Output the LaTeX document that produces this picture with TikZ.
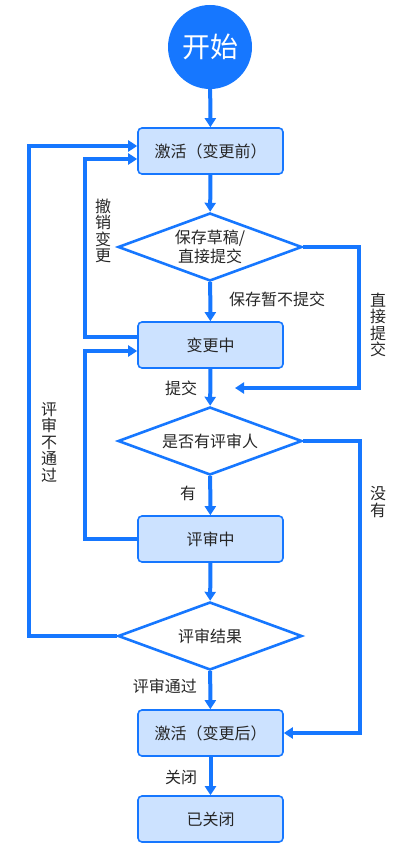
\documentclass[tikz,border=0pt]{standalone}
\usepackage{fontspec}
\setmainfont{Noto Sans CJK SC}
\usetikzlibrary{shapes.geometric,arrows.meta}
\definecolor{flowblue}{HTML}{1677FF}
\definecolor{boxfill}{HTML}{CCE2FF}
\tikzset{
  state/.style={draw=flowblue,line width=1.6pt,fill=boxfill,rounded corners=4pt,
    minimum width=145pt,minimum height=46pt,inner sep=0pt,text=black!85,font=\fontsize{16}{16.5}\selectfont},
  choice/.style={draw=flowblue,line width=2.6pt,fill=white,shape=diamond,shape aspect=2.7,
    minimum width=184pt,minimum height=68pt,inner sep=0pt,align=center,text=black!85,font=\fontsize{16}{18.5}\selectfont},
  flow/.style={draw=flowblue,line width=4pt,-{Triangle[width=11pt,length=9pt]}},
  lbl/.style={text=black!85,font=\fontsize{16}{16.5}\selectfont,inner sep=0pt},
  vlbl/.style={lbl,align=center,text width=1em}
}
\begin{document}
\begin{tikzpicture}[x=1pt,y=-1pt]
\useasboundingbox (0,0) rectangle (412,853);
\node[circle,fill=flowblue,minimum size=84pt,inner sep=0pt,text=white,font=\fontsize{28}{28}\selectfont] (start) at (210,47) {开始};
\node[state] (pre) at (210.5,151) {激活（变更前）};
\node[choice] (d1) at (210,247) {保存草稿/\\直接提交};
\node[state] (mid) at (210.5,345) {变更中};
\node[choice] (d2) at (210,441) {是否有评审人};
\node[state] (review) at (210.5,539) {评审中};
\node[choice] (d3) at (210,636) {评审结果};
\node[state] (post) at (210.5,733) {激活（变更后）};
\node[state] (closed) at (210.5,819) {已关闭};
\coordinate (j1) at (235,388);

\draw[flow] (start) -- (pre);
\draw[flow] (pre) -- (d1);
\draw[flow] (d1) -- (mid);
\draw[flow] (d1.east) -| ([xshift=124pt]j1) -- (j1);
\draw[flow] (mid) -- (d2);
\draw[flow] ([yshift=8pt]mid.west) -- ++(-52,0) |- ([yshift=-8pt]pre.west);
\draw[flow] (d2) -- (review);
\draw[flow] (d2.east) -| ([xshift=76pt]post.east) -- (post.east);
\draw[flow] (review.west) -- ++(-52,0) |- ([yshift=-6pt]mid.west);
\draw[flow] (review) -- (d3);
\draw[flow] (d3.west) -| ([xshift=-108pt,yshift=5pt]pre.west) -- ([yshift=5pt]pre.west);
\draw[flow] (d3) -- (post);
\draw[flow] (post) -- (closed);

\node[lbl,anchor=west] (l1) at (229,299) {保存暂不提交};
\node[vlbl] (l2) at (375,325) {直\\接\\提\\交};
\node[vlbl] (l3) at (100,231) {撤\\销\\变\\更};
\node[lbl] (l4) at (181,388) {提交};
\node[lbl] (l5) at (188,493) {有};
\node[vlbl] (l6) at (375,502) {没\\有};
\node[vlbl] (l7) at (46,442) {评\\审\\不\\通\\过};
\node[lbl,anchor=east] (l8) at (197,686) {评审通过};
\node[lbl] (l9) at (181,777) {关闭};
\end{tikzpicture}
\end{document}
